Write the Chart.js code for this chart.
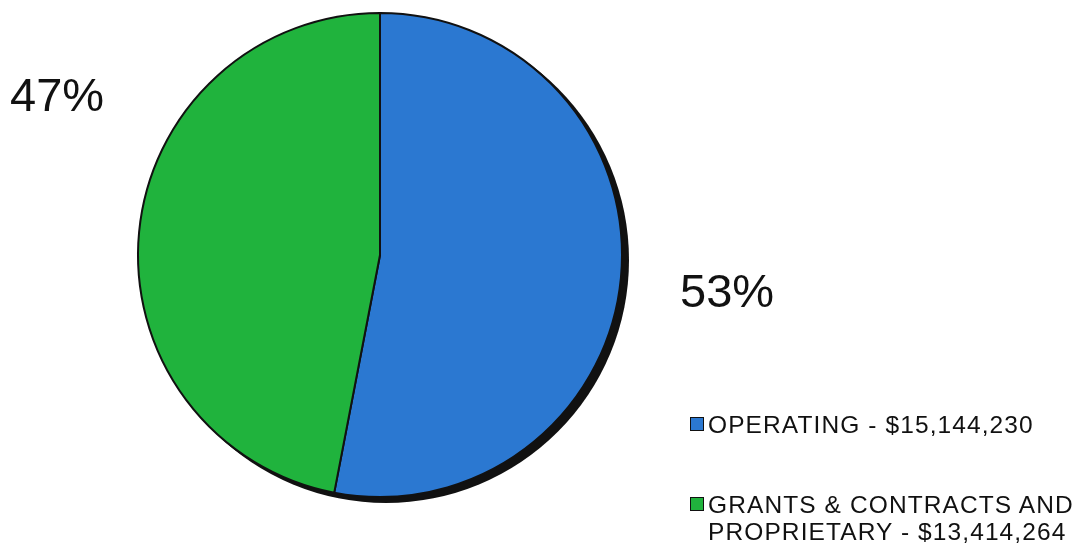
<!DOCTYPE html>
<html>
<head>
<meta charset="utf-8">
<script src="https://cdn.jsdelivr.net/npm/chart.js@4.4.1/dist/chart.umd.min.js"></script>
<style>
  html, body { margin: 0; padding: 0; background: #fff; }
  #wrap { position: relative; width: 1087px; height: 548px; font-family: "Liberation Sans", Arial, sans-serif; color: #111; }
  canvas { position: absolute; left: 0; top: 0; }
  .pct { position: absolute; font-size: 47px; line-height: 1; }
  .legend { position: absolute; left: 690px; font-size: 24.5px; line-height: 27px; letter-spacing: 1.1px; }
  .legend .row { position: relative; padding-left: 18px; }
  .legend .box { position: absolute; left: 0; top: 6px; width: 12px; height: 12px; border: 1.5px solid #111; }
</style>
</head>
<body>
<div id="wrap">
  <canvas id="chart" width="1087" height="548"></canvas>
  <div class="pct" id="pctLeft" style="left:10px; top:71px;"></div>
  <div class="pct" id="pctRight" style="left:680px; top:267px;"></div>
  <div class="legend" id="legend" style="top:411px;"></div>
</div>
<script>
// chart data
const categories = [["OPERATING - $15,144,230"], ["GRANTS & CONTRACTS AND", "PROPRIETARY - $13,414,264"]];
const amounts = [15144230, 13414264];
const percentLabels = ["53%", "47%"];
const colors = ["#2b78d1", "#20b33d"];

document.getElementById('pctRight').textContent = percentLabels[0];
document.getElementById('pctLeft').textContent = percentLabels[1];

// legend built from the categories
const legendEl = document.getElementById('legend');
categories.forEach((lines, i) => {
  const row = document.createElement('div');
  row.className = 'row';
  row.style.marginBottom = i === 0 ? '53px' : '0';
  const box = document.createElement('span');
  box.className = 'box';
  box.style.background = colors[i];
  row.appendChild(box);
  lines.forEach(t => {
    const d = document.createElement('div');
    d.textContent = t;
    row.appendChild(d);
  });
  legendEl.appendChild(row);
});

// dark drop shadow behind the pie, like the old office chart
const pieShadow = {
  id: 'pieShadow',
  beforeDatasetsDraw(chart) {
    const arc = chart.getDatasetMeta(0).data[0];
    if (!arc) return;
    const ctx = chart.ctx;
    ctx.save();
    ctx.fillStyle = '#111';
    ctx.beginPath();
    ctx.arc(arc.x + 6, arc.y + 5, arc.outerRadius + 1, 0, Math.PI * 2);
    ctx.fill();
    ctx.restore();
  }
};

new Chart(document.getElementById('chart'), {
  type: 'pie',
  data: {
    labels: categories.map(l => l.join(' ')),
    datasets: [{
      data: amounts,
      backgroundColor: colors,
      borderColor: '#111',
      borderWidth: 2
    }]
  },
  options: {
    responsive: false,
    animation: false,
    layout: { padding: { left: 137, right: 464, top: 12, bottom: 50 } },
    plugins: {
      legend: { display: false },
      tooltip: { enabled: false }
    }
  },
  plugins: [pieShadow]
});
</script>
</body>
</html>
